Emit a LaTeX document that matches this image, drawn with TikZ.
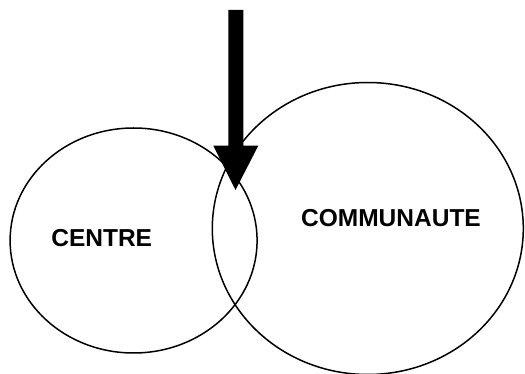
\documentclass[tikz,border=0pt]{standalone}
\usepackage{fontspec}
\setmainfont{Liberation Sans}
\usetikzlibrary{shapes.geometric}
\begin{document}
\begin{tikzpicture}[x=1pt,y=-1pt,
  ring/.style={draw=black,line width=1.5pt,ellipse,inner sep=0pt},
  lbl/.style={font=\fontsize{24.5}{28}\selectfont\bfseries,anchor=base,inner sep=0pt}]
\useasboundingbox (0,0) rectangle (525,374);
\node[ring,minimum width=247pt,minimum height=225pt] (centre) at (133.6,240.5) {};
\node[ring,minimum width=311pt,minimum height=292pt] (comm) at (367.8,228.5) {};
\node[lbl] (tcentre) at (101.7,246.7) {CENTRE};
\node[lbl] (tcomm) at (391,226.7) {COMMUNAUTE};
\coordinate (s1) at (228.3,10);
\coordinate (s2) at (243.3,10);
\coordinate (h1) at (213.3,145.7);
\coordinate (h2) at (258.3,145.7);
\coordinate (tip) at (235.5,190);
\fill[black] (s1) -- (s2) -- (243.3,145.7) -- (h2) -- (tip) -- (h1) -- (228.3,145.7) -- cycle;
\end{tikzpicture}
\end{document}
